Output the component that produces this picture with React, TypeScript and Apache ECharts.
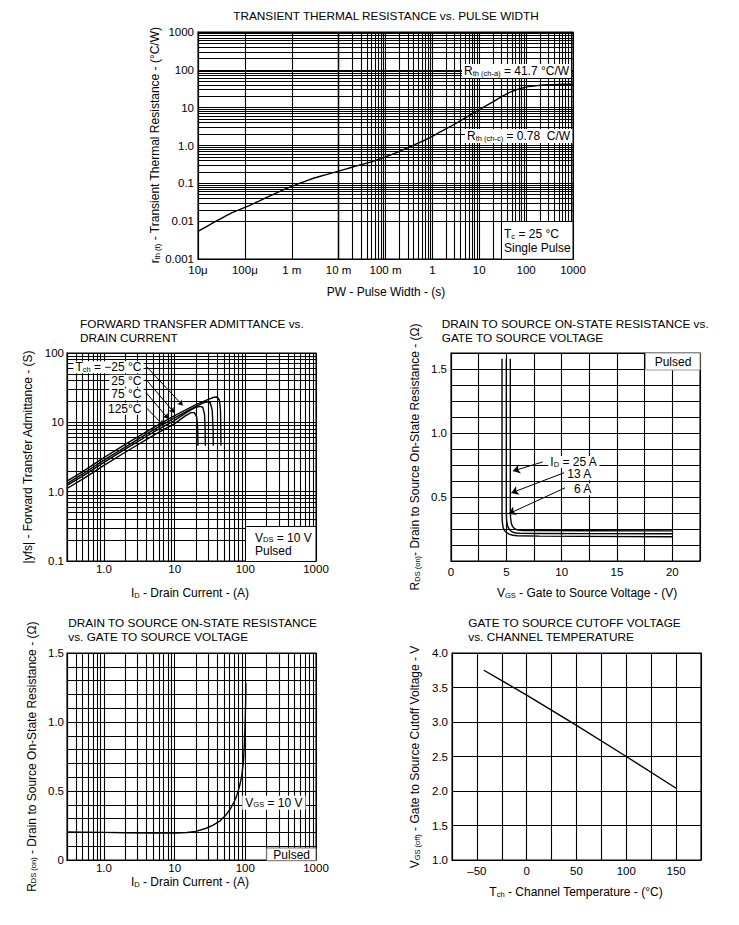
import React, { useEffect, useRef } from 'react';
import * as echarts from 'echarts';

const FONT = '"Liberation Sans", Arial, Helvetica, sans-serif';

// ---------- Chart 1: transient thermal resistance vs pulse width ----------
const pulseWidth = [1e-5, 2e-5, 3e-5, 5e-5, 1e-4, 2e-4, 3e-4, 5e-4, 1e-3, 2e-3, 3e-3, 5e-3, 1e-2, 2e-2, 3e-2, 5e-2, 0.1, 0.2, 0.3, 0.5, 1, 2, 3, 5, 10, 20, 30, 50, 100, 200, 300, 500, 1000];
const rthT = [0.0054, 0.0088, 0.0115, 0.016, 0.023, 0.034, 0.043, 0.058, 0.083, 0.115, 0.138, 0.165, 0.21, 0.27, 0.31, 0.37, 0.5, 0.7, 0.88, 1.15, 1.75, 2.8, 3.7, 5.4, 8.8, 14.5, 19.5, 27, 35, 39, 40.5, 41.3, 41.7];
const pwTickLabels = ['10μ', '100μ', '1 m', '10 m', '100 m', '1', '10', '100', '1000']; // 1e-5 .. 1e3
const rthTickLabels = ['0.001', '0.01', '0.1', '1.0', '10', '100', '1000']; // 1e-3 .. 1e3

// ---------- Chart 2: forward transfer admittance vs drain current ----------
const idM25 = [0.3, 0.5, 1, 2, 5, 10, 20, 30, 36, 40, 43, 44.5, 45, 45.2];
const yfsM25 = [1.42, 1.95, 3.1, 4.8, 8.4, 12.5, 18, 21.5, 23, 23.2, 21, 15, 8, 4.6];
const id25 = [0.3, 0.5, 1, 2, 5, 10, 20, 25, 29, 32, 34, 35, 35.2];
const yfs25 = [1.31, 1.8, 2.85, 4.4, 7.8, 11.6, 17, 19, 19.8, 19, 15, 8, 4.6];
const id75 = [0.3, 0.5, 1, 2, 5, 10, 15, 20, 23, 25, 26.5, 27, 27.2];
const yfs75 = [1.23, 1.68, 2.65, 4.1, 7.2, 10.7, 14, 16.5, 17, 16.5, 13, 8, 4.6];
const id125 = [0.3, 0.5, 1, 2, 5, 10, 14, 17, 19, 20.5, 21.2, 21.4];
const yfs125 = [1.11, 1.52, 2.4, 3.7, 6.5, 9.6, 12.3, 13.8, 13.8, 12, 8, 4.6];
const idTickLabels = ['1.0', '10', '100', '1000']; // 1 .. 1000
const yfsTickLabels = ['0.1', '1.0', '10', '100']; // 0.1 .. 100
const tchLabels = ['−25 °C', '25 °C', '75 °C', '125°C'];

// ---------- Chart 3: RDS(on) vs VGS ----------
const vgs6A = [4.61, 4.61, 4.63, 4.7, 4.8, 4.94, 5.1, 5.3, 5.6, 6, 8, 12, 20];
const rds6A = [1.58, 0.36, 0.31, 0.266, 0.243, 0.228, 0.217, 0.208, 0.201, 0.197, 0.194, 0.192, 0.19];
const vgs13A = [5.0, 5.0, 5.02, 5.09, 5.2, 5.3, 5.45, 5.6, 5.9, 6.3, 8, 12, 20];
const rds13A = [1.58, 0.37, 0.32, 0.28, 0.258, 0.244, 0.232, 0.225, 0.219, 0.216, 0.215, 0.214, 0.213];
const vgs25A = [5.36, 5.36, 5.38, 5.45, 5.55, 5.66, 5.8, 5.96, 6.5, 8, 12, 20];
const rds25A = [1.58, 0.39, 0.34, 0.295, 0.272, 0.26, 0.25, 0.244, 0.238, 0.237, 0.236, 0.235];
const idLabels = ['25 A', '13 A', '6 A'];

// ---------- Chart 4: RDS(on) vs ID ----------
const rdsCurrent = [0.3, 0.5, 1, 2, 5, 10, 15, 20, 28, 35, 44, 52, 61, 70, 76, 83, 89, 94, 97, 99, 101, 102];
const rdsOn = [0.203, 0.202, 0.2, 0.198, 0.196, 0.196, 0.199, 0.207, 0.23, 0.253, 0.284, 0.32, 0.368, 0.425, 0.47, 0.535, 0.61, 0.71, 0.84, 0.97, 1.13, 1.28];

// ---------- Chart 5: VGS(off) vs channel temperature ----------
const channelTemp = [-43, 0, 50, 100, 150];
const vgsOff = [3.75, 3.39, 2.95, 2.5, 2.04];

// ---------- layout ----------
const GRID = [
  { left: 198, top: 32, width: 375, height: 227 },
  { left: 67, top: 353, width: 249, height: 208 },
  { left: 451, top: 353, width: 249, height: 208 },
  { left: 67, top: 653, width: 249, height: 207 },
  { left: 452, top: 653, width: 249, height: 207 },
];

const pair = (xs: number[], ys: number[]) => xs.map((x, i) => [x, ys[i]]);

const logFmt = (labels: string[], firstExp: number) => (v: number) => {
  const e = Math.log10(v);
  const r = Math.round(e);
  if (!isFinite(e) || Math.abs(e - r) > 0.02) return '';
  return labels[r - firstExp] ?? '';
};

const minorLog = (minExp: number, maxExp: number, lo: number, hi: number) => {
  const out: number[] = [];
  for (let d = minExp; d < maxExp; d++) {
    for (let m = 2; m <= 9; m++) {
      const v = m * Math.pow(10, d);
      if (v > lo * 1.0001 && v < hi * 0.9999) out.push(v);
    }
  }
  return out;
};

const RICH = {
  a: { fontSize: 12, fontFamily: FONT, fill: '#000', lineHeight: 12 },
  s: { fontSize: 7.5, fontFamily: FONT, fill: '#000', lineHeight: 8, verticalAlign: 'bottom' },
};

const T = (x: number, y: number, text: string, o: any = {}) => ({
  type: 'text',
  x,
  y,
  rotation: o.rot ?? 0,
  z: 100,
  silent: true,
  style: {
    text,
    fill: '#000',
    fontSize: o.size ?? 12,
    fontFamily: FONT,
    lineHeight: 12,
    align: o.align ?? 'left',
    textAlign: o.align ?? 'left',
    verticalAlign: 'middle',
    textVerticalAlign: 'middle',
    rich: RICH,
    backgroundColor: o.bg,
    padding: o.pad,
  },
});

const R = (x: number, y: number, w: number, h: number, stroke: string) => ({
  type: 'rect',
  z: 99,
  silent: true,
  shape: { x, y, width: w, height: h },
  style: { fill: '#fff', stroke, lineWidth: 1 },
});

function buildOption() {
  const line = { color: '#000', width: 1.1 };
  const ax = (gridIndex: number, type: string, min: number, max: number, margin: number, formatter: any, interval?: number) => {
    const a: any = {
      gridIndex,
      type,
      min,
      max,
      axisLine: { show: true, onZero: false, lineStyle: line },
      axisTick: { show: false },
      splitLine: { show: true, lineStyle: line },
      axisLabel: { show: true, color: '#000', fontSize: 11.5, fontFamily: FONT, margin, formatter },
    };
    if (type === 'log') a.logBase = 10;
    if (interval != null) a.interval = interval;
    return a;
  };

  const xAxis = [
    ax(0, 'log', 1e-5, 1000, 5, logFmt(pwTickLabels, -5)),
    ax(1, 'log', 0.3, 1000, 2, logFmt(idTickLabels, 0)),
    ax(2, 'value', 0, 22.5, 5, (v: number) => (Math.abs(v % 5) < 1e-6 ? String(v) : ''), 2.5),
    ax(3, 'log', 0.3, 1000, 2, logFmt(idTickLabels, 0)),
    ax(4, 'value', -75, 175, 5, (v: number) => (Math.abs(v % 50) < 1e-6 ? (v < 0 ? '–' + -v : String(v)) : ''), 25),
  ];
  const yAxis = [
    ax(0, 'log', 0.001, 1000, 4, logFmt(rthTickLabels, -3)),
    ax(1, 'log', 0.1, 100, 3, logFmt(yfsTickLabels, -1)),
    ax(2, 'value', 0, 1.625, 4, (v: number) => {
      const k = v / 0.5;
      return v > 0.01 && Math.abs(k - Math.round(k)) < 1e-6 ? v.toFixed(1) : '';
    }, 0.125),
    ax(3, 'value', 0, 1.5, 3, (v: number) => {
      const k = v / 0.5;
      if (Math.abs(k - Math.round(k)) > 1e-6) return '';
      return Math.abs(v) < 1e-9 ? '0' : v.toFixed(1);
    }, 0.1),
    ax(4, 'value', 1, 4, 4, (v: number) => v.toFixed(1), 0.5),
  ];

  const mlBase = (data: any[]) => ({
    silent: true,
    symbol: 'none',
    animation: false,
    label: { show: false },
    emphasis: { disabled: true },
    lineStyle: { color: '#000', width: 1.1, type: 'solid' },
    data,
  });
  const vLines = (vs: number[]) => vs.map((v) => ({ xAxis: v }));
  const hLines = (vs: number[]) => vs.map((v) => ({ yAxis: v }));
  const arrow = (from: number[], to: number[], size: number) => [
    { coord: from, symbol: 'none', lineStyle: { width: 1 } },
    { coord: to, symbol: 'arrow', symbolSize: size },
  ];

  const curve = (idx: number, xs: number[], ys: number[], extra: any = {}) => ({
    type: 'line',
    xAxisIndex: idx,
    yAxisIndex: idx,
    data: pair(xs, ys),
    showSymbol: false,
    symbol: 'none',
    silent: true,
    z: 3,
    lineStyle: { color: '#000', width: 1.4 },
    emphasis: { disabled: true },
    ...extra,
  });

  // annotation arrows in data coordinates
  const yfsArrows = [
    arrow([3.96, 64.5], [13, 17.5], 5),
    arrow([3.96, 41.3], [9.84, 13.8], 5),
    arrow([3.96, 26.8], [8.1, 11.3], 5),
    arrow([3.96, 16.3], [6.9, 9.1], 5),
  ];
  const rdsArrows = [
    arrow([8.29, 0.774], [5.6, 0.703], 7),
    arrow([10.24, 0.69], [5.45, 0.532], 7),
    arrow([10.3, 0.571], [5.21, 0.369], 7),
  ];

  const series = [
    curve(0, pulseWidth, rthT, {
      smooth: 0.3,
      markLine: mlBase([...vLines(minorLog(-5, 3, 1e-5, 1000)), ...hLines(minorLog(-3, 3, 0.001, 1000))]),
    }),
    curve(1, idM25, yfsM25, {
      markLine: mlBase([...vLines(minorLog(-1, 3, 0.3, 1000)), ...hLines(minorLog(-1, 2, 0.1, 100)), ...yfsArrows]),
    }),
    curve(1, id25, yfs25),
    curve(1, id75, yfs75),
    curve(1, id125, yfs125),
    curve(2, vgs25A, rds25A, { markLine: mlBase(rdsArrows) }),
    curve(2, vgs13A, rds13A),
    curve(2, vgs6A, rds6A),
    curve(3, rdsCurrent, rdsOn, { markLine: mlBase(vLines(minorLog(-1, 3, 0.3, 1000))) }),
    curve(4, channelTemp, vgsOff),
  ];

  const TS = 11.8;
  const elements: any[] = [
    // titles
    T(386, 16, 'TRANSIENT THERMAL RESISTANCE vs. PULSE WIDTH', { align: 'center', size: TS }),
    T(80, 324, 'FORWARD TRANSFER ADMITTANCE vs.', { size: TS }),
    T(80, 337.5, 'DRAIN CURRENT', { size: TS }),
    T(441.7, 324, 'DRAIN TO SOURCE ON-STATE RESISTANCE vs.', { size: TS }),
    T(441.7, 337.5, 'GATE TO SOURCE VOLTAGE', { size: TS }),
    T(68.3, 623.3, 'DRAIN TO SOURCE ON-STATE RESISTANCE', { size: TS }),
    T(68.3, 636.7, 'vs. GATE TO SOURCE VOLTAGE', { size: TS }),
    T(468.3, 623.3, 'GATE TO SOURCE CUTOFF VOLTAGE', { size: TS }),
    T(468.3, 636.7, 'vs. CHANNEL TEMPERATURE', { size: TS }),
    // axis names
    T(155, 145, '{a|r}{s|th (t)}{a| - Transient Thermal Resistance - (°C/W)}', { align: 'center', rot: Math.PI / 2 }),
    T(386, 292, 'PW - Pulse Width - (s)', { align: 'center' }),
    T(28, 457, '|yfs| - Forward Transfer Admittance - (S)', { align: 'center', rot: Math.PI / 2 }),
    T(190, 593, '{a|I}{s|D}{a| - Drain Current - (A)}', { align: 'center' }),
    T(415, 457, '{a|R}{s|DS (on)}{a|- Drain to Source On-State Resistance - (Ω)}', { align: 'center', rot: Math.PI / 2 }),
    T(587, 593, '{a|V}{s|GS}{a| - Gate to Source Voltage - (V)}', { align: 'center' }),
    T(31.7, 756.7, '{a|R}{s|DS (on)}{a| - Drain to Source On-State Resistance - (Ω)}', { align: 'center', rot: Math.PI / 2 }),
    T(190, 882, '{a|I}{s|D}{a| - Drain Current - (A)}', { align: 'center' }),
    T(415, 757, '{a|V}{s|GS (off)}{a| - Gate to Source Cutoff Voltage - V}', { align: 'center', rot: Math.PI / 2 }),
    T(576, 892, '{a|T}{s|ch}{a| - Channel Temperature - (°C)}', { align: 'center' }),
    // chart 1 annotations
    T(462, 71, '{a|R}{s|th (ch-a)}{a| = 41.7 °C/W}', { bg: '#fff', pad: [1, 2] }),
    T(465, 136, '{a|R}{s|th (ch-c)}{a| = 0.78  C/W}', { bg: '#fff', pad: [1, 2] }),
    R(501.5, 221.5, 71.5, 37.8, '#000'),
    T(504, 234, '{a|T}{s|c}{a| = 25 °C}'),
    T(504, 247.5, 'Single Pulse'),
    // chart 2 annotations
    T(143.5, 367.3, '{a|T}{s|ch}{a| = ' + tchLabels[0] + '}', { align: 'right', bg: '#fff', pad: [0, 2] }),
    T(143.5, 380.7, tchLabels[1], { align: 'right', bg: '#fff', pad: [0, 2] }),
    T(143.5, 394.3, tchLabels[2], { align: 'right', bg: '#fff', pad: [0, 2] }),
    T(143.5, 408.7, tchLabels[3], { align: 'right', bg: '#fff', pad: [0, 2] }),
    R(245.5, 526.5, 70.5, 35, '#000'),
    T(255, 537.8, '{a|V}{s|DS}{a| = 10 V}'),
    T(255, 550.7, 'Pulsed'),
    // chart 3 annotations
    R(645.5, 353, 54.5, 17, '#999'),
    T(673, 361.7, 'Pulsed', { align: 'center' }),
    T(548.3, 462, '{a|I}{s|D}{a| = ' + idLabels[0] + '}', { bg: '#fff', pad: [0, 2] }),
    T(593.3, 474.3, idLabels[1], { align: 'right', bg: '#fff', pad: [0, 2] }),
    T(593.3, 489.3, idLabels[2], { align: 'right', bg: '#fff', pad: [0, 2] }),
    // chart 4 annotations
    T(242.3, 802.7, '{a|V}{s|GS}{a| = 10 V}', { bg: '#fff', pad: [1, 3] }),
    R(266.7, 848, 49.3, 12.7, '#777'),
    T(291.7, 854.5, 'Pulsed', { align: 'center' }),
  ];

  return {
    animation: false,
    backgroundColor: '#fff',
    textStyle: { fontFamily: FONT },
    grid: GRID.map((g) => ({
      ...g,
      show: true,
      borderColor: '#000',
      borderWidth: 1.1,
      backgroundColor: 'transparent',
      containLabel: false,
      outerBoundsMode: 'none',
    })),
    xAxis,
    yAxis,
    series,
    graphic: { elements },
  };
}

export default function App() {
  const ref = useRef<HTMLDivElement>(null);
  useEffect(() => {
    document.body.style.margin = '0';
    const chart = echarts.init(ref.current as HTMLDivElement, null, { renderer: 'svg' });
    chart.setOption(buildOption() as any);
    return () => chart.dispose();
  }, []);
  return <div ref={ref} style={{ width: 739, height: 925, background: '#fff' }} />;
}
